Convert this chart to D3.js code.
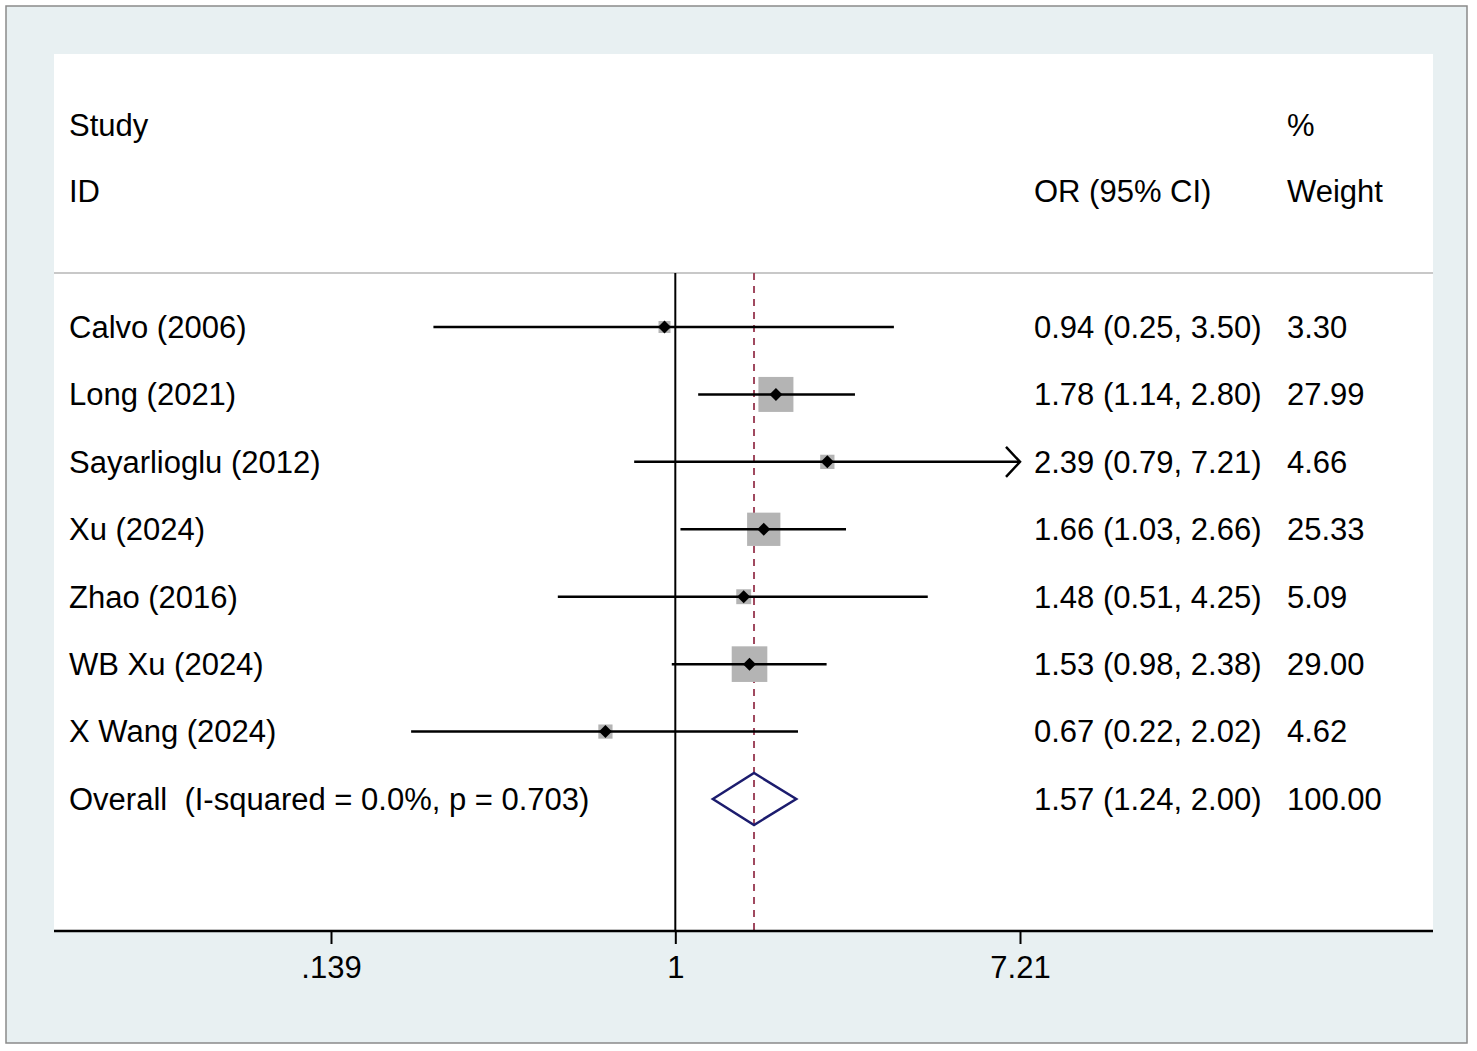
<!DOCTYPE html>
<html><head><meta charset="utf-8">
<script src="https://cdn.jsdelivr.net/npm/d3@7"></script>
<style>body{margin:0;background:#fff}svg{display:block}text{font-family:"Liberation Sans",Arial,Helvetica,sans-serif;fill:#000}</style>
</head><body><svg id="c" width="1477" height="1051"></svg>
<script>
const studies = ["Calvo (2006)","Long (2021)","Sayarlioglu (2012)","Xu (2024)","Zhao (2016)","WB Xu (2024)","X Wang (2024)"];
const orVals = [0.94,1.78,2.39,1.66,1.48,1.53,0.67];
const lowerCI = [0.25,1.14,0.79,1.03,0.51,0.98,0.22];
const upperCI = [3.50,2.80,7.21,2.66,4.25,2.38,2.02];
const weights = [3.30,27.99,4.66,25.33,5.09,29.00,4.62];
const overall = {label:"Overall  (I-squared = 0.0%, p = 0.703)", or:1.57, lo:1.24, hi:2.00, w:100.00};
const tickVals = [0.139,1,7.21];
const tickLabels = [".139","1","7.21"];

const svg = d3.select("#c");
const fmt = d3.format(".2f");
// frame
svg.append("rect").attr("x",6).attr("y",6).attr("width",1461).attr("height",1037)
  .attr("fill","#e8f0f2").attr("stroke","#8a8a8a").attr("stroke-width",1.5);
const P = {l:54,t:54,r:1433,b:931};
svg.append("rect").attr("x",P.l).attr("y",P.t).attr("width",P.r-P.l).attr("height",P.b-P.t).attr("fill","#fff");

const x = d3.scaleLog().domain([0.139,7.21]).range([331,1020]);
const rows = studies.length+1;
const y = d3.scaleLinear().domain([0,rows-1]).range([327,799]);

// header
const fs = 31;
function txt(t,xx,yy){return svg.append("text").attr("x",xx).attr("y",yy).attr("dy","0.35em").attr("font-size",fs).style("white-space","pre").text(t);}
txt("Study",69,125); txt("ID",69,191);
txt("%",1287,125); txt("Weight",1287,191);
txt("OR (95% CI)",1034,191);
svg.append("line").attr("x1",P.l).attr("x2",P.r).attr("y1",273).attr("y2",273).attr("stroke","#c8c8c8").attr("stroke-width",2);

// null line
svg.append("line").attr("x1",x(1)).attr("x2",x(1)).attr("y1",273).attr("y2",P.b).attr("stroke","#000").attr("stroke-width",2);
// overall dashed line
svg.append("line").attr("x1",x(overall.or)).attr("x2",x(overall.or)).attr("y1",273).attr("y2",P.b)
  .attr("stroke","#a0485e").attr("stroke-width",2).attr("stroke-dasharray","7,6");

const k = 35/Math.sqrt(28);
const data = studies.map((s,i)=>({s,or:orVals[i],lo:lowerCI[i],hi:upperCI[i],w:weights[i],i}));
const g = svg.append("g");
// boxes
g.selectAll("rect.box").data(data).join("rect").attr("class","box")
  .attr("x",d=>x(d.or)-k*Math.sqrt(d.w)/2).attr("y",d=>y(d.i)-k*Math.sqrt(d.w)/2)
  .attr("width",d=>k*Math.sqrt(d.w)).attr("height",d=>k*Math.sqrt(d.w)).attr("fill","#b4b4b4");
// CI lines
const xmax = 7.21;
g.selectAll("line.ci").data(data).join("line").attr("class","ci")
  .attr("x1",d=>x(d.lo)).attr("x2",d=>x(Math.min(d.hi,xmax))).attr("y1",d=>y(d.i)).attr("y2",d=>y(d.i))
  .attr("stroke","#000").attr("stroke-width",2.5);
// arrows for truncated
g.selectAll("path.arr").data(data.filter(d=>d.hi>=xmax)).join("path").attr("class","arr")
  .attr("d",d=>{const xx=x(xmax),yy=y(d.i);return `M${xx-14},${yy-15}L${xx},${yy}L${xx-14},${yy+15}`;})
  .attr("fill","none").attr("stroke","#000").attr("stroke-width",2.5);
// point diamonds
g.selectAll("path.pt").data(data).join("path").attr("class","pt")
  .attr("d",d=>{const xx=x(d.or),yy=y(d.i),r=6.5;return `M${xx},${yy-r}L${xx+r},${yy}L${xx},${yy+r}L${xx-r},${yy}Z`;})
  .attr("fill","#000");
// overall diamond
const oy = y(rows-1);
svg.append("path").attr("d",`M${x(overall.lo)},${oy}L${x(overall.or)},${oy-26}L${x(overall.hi)},${oy}L${x(overall.or)},${oy+26}Z`)
  .attr("fill","none").attr("stroke","#1c1c6e").attr("stroke-width",2.5);

// row labels
data.forEach(d=>{
  txt(d.s,69,y(d.i));
  txt(`${fmt(d.or)} (${fmt(d.lo)}, ${fmt(d.hi)})`,1034,y(d.i));
  txt(fmt(d.w),1287,y(d.i));
});
txt(overall.label,69,oy);
txt(`${fmt(overall.or)} (${fmt(overall.lo)}, ${fmt(overall.hi)})`,1034,oy);
txt(fmt(overall.w),1287,oy);

// axis
svg.append("line").attr("x1",P.l).attr("x2",P.r).attr("y1",P.b).attr("y2",P.b).attr("stroke","#000").attr("stroke-width",2.5);
const ax = svg.append("g").attr("transform",`translate(0,${P.b})`)
  .call(d3.axisBottom(x).tickValues(tickVals).tickFormat((d,i)=>tickLabels[i]).tickSize(13).tickSizeOuter(0).tickPadding(12));
ax.select(".domain").remove();
ax.selectAll(".tick line").attr("stroke","#000").attr("stroke-width",2);
ax.selectAll(".tick text").attr("font-size",fs).attr("fill","#000").attr("font-family","Liberation Sans, Arial, sans-serif");
</script></body></html>
